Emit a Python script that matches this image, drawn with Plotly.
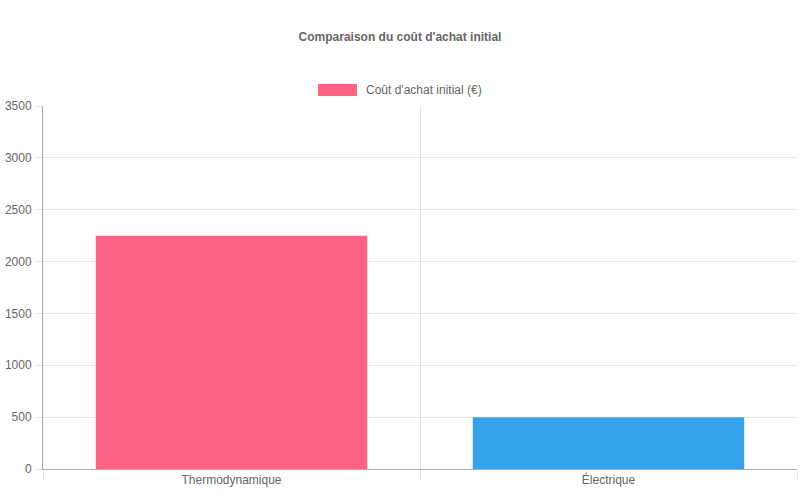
import plotly.graph_objects as go

categories = ["Thermodynamique", "Électrique"]
costs = [2250, 500]
bar_colors = ["#FF6384", "#36A2EB"]
series_name = "Coût d'achat initial (€)"
chart_title = "Comparaison du coût d'achat initial"

fig = go.Figure()
fig.add_trace(go.Bar(x=categories, y=costs, marker_color=bar_colors,
                     marker_line_width=0, width=0.72, name=series_name,
                     showlegend=False))

# chart.js-like legend box drawn by hand
fig.add_shape(type="rect", xref="paper", yref="paper",
              x0=0.3647, x1=0.4164, y0=1.0275, y1=1.0606,
              fillcolor=bar_colors[0], line_width=0)
fig.add_annotation(text=series_name, xref="paper", yref="paper",
                   x=0.4257, y=1.044, xanchor="left", yanchor="middle",
                   showarrow=False, font=dict(size=12, color="#666"))

fig.update_layout(
    width=800, height=500,
    margin=dict(l=43, r=3, t=106, b=31),
    plot_bgcolor="white", paper_bgcolor="white",
    font=dict(family="Liberation Sans, Arial, sans-serif", size=12, color="#666"),
    title=dict(text="<b>" + chart_title + "</b>", x=0.5, xanchor="center",
               y=1 - 37 / 500, yanchor="middle", yref="container",
               font=dict(size=12, color="#666")),
)
fig.update_xaxes(range=[-0.5, 1.5], tickson="boundaries", ticks="outside",
                 ticklen=10, tickcolor="#e5e5e5", showgrid=True,
                 gridcolor="#e5e5e5", showline=True, linecolor="#aaa",
                 linewidth=1, zeroline=False, automargin=False)
fig.update_yaxes(range=[0, 3500], dtick=500, ticks="outside", ticklen=8,
                 tickcolor="#e5e5e5", showgrid=True, gridcolor="#e5e5e5",
                 showline=True, linecolor="#aaa", linewidth=1, zeroline=False,
                 automargin=False)

# drop the default 8px body margin so the figure sits at the page corner
fig.write_html("out.html", config={"displayModeBar": False},
               post_script="document.body.style.margin='0';")
